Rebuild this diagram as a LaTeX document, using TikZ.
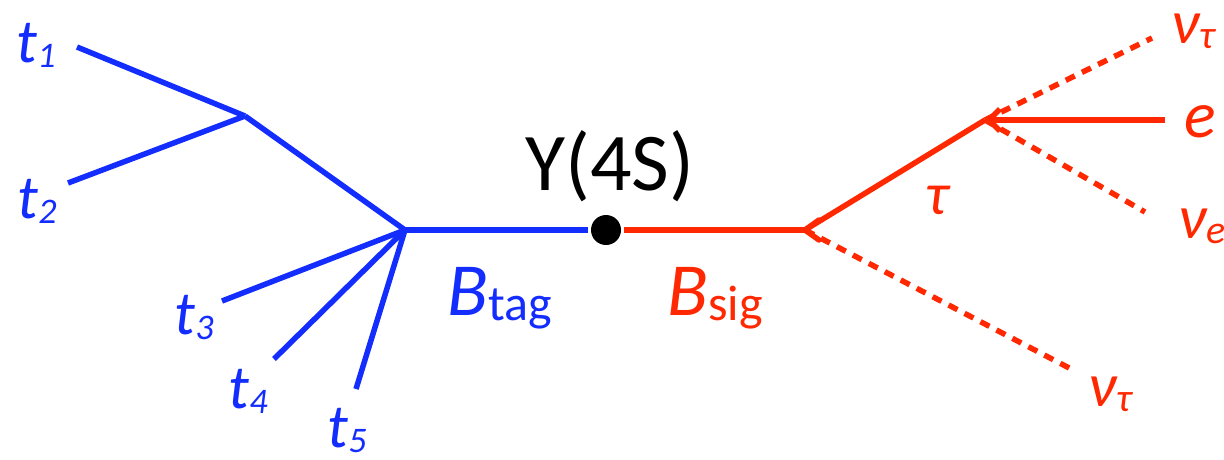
\documentclass[tikz,border=0pt]{standalone}
\usepackage{fontspec}
\setmainfont{Carlito}
\usetikzlibrary{arrows.meta}
\definecolor{tblue}{RGB}{20,45,255}
\definecolor{tred}{RGB}{255,40,0}
\newcommand\lab[4]{{\fontsize{#3}{#3}\selectfont\itshape #1}{\fontsize{#4}{#4}\selectfont\itshape\raisebox{-5pt}{#2}}}
\begin{document}
\begin{tikzpicture}[x=1pt,y=-1pt,
  bl/.style={draw=tblue,line width=5.5pt},
  rl/.style={draw=tred,line width=5.5pt},
  rd/.style={draw=tred,line width=5.5pt,dash pattern=on 10pt off 8pt},
  btxt/.style={text=tblue,inner sep=0pt},
  rtxt/.style={text=tred,inner sep=0pt}]
\useasboundingbox (0,0) rectangle (1224,459);
% vertices
\coordinate (v1) at (245,116);
\coordinate (v2) at (405,230);
\coordinate (v3) at (805,230);
\coordinate (v4) at (985,120);
\node[circle,fill=black,minimum size=30pt,inner sep=0pt] (Y) at (606,230) {};
% free ends
\coordinate (e1) at (77,47);
\coordinate (e2) at (68,183);
\coordinate (e3) at (222,301);
\coordinate (e4) at (274,359);
\coordinate (e5) at (356,389);
\coordinate (ee) at (1165,120);
\coordinate (ent) at (1152,38);
\coordinate (ene) at (1145,212);
\coordinate (ent2) at (1073,370);
% blue tree
\draw[bl] (e1) -- (v1);
\draw[bl] (e2) -- (v1);
\draw[bl] (v1) -- (v2);
\draw[bl] (e3) -- (v2);
\draw[bl] (e4) -- (v2);
\draw[bl] (e5) -- (v2);
\draw[bl,shorten >=3pt] (v2) -- (Y);
% red tree
\draw[rl,shorten <=3pt] (Y) -- (v3);
\draw[rl,line cap=round] ([shift={(14,-10)}]v3) -- (v3) -- ([shift={(14,10)}]v3);
\draw[rl] (v3) -- (v4);
\draw[rd] (v3) -- (ent2);
\draw[rl,-{Straight Barb[length=11pt,width=22pt]}] (ee) -- (v4);
\draw[rd] (v4) -- (ent);
\draw[rd] (v4) -- (ene);
% labels
\node[btxt] (t1) at (36,45) {\lab{t}{1}{62}{36}};
\node[btxt] (t2) at (37,201) {\lab{t}{2}{62}{36}};
\node[btxt] (t3) at (194,318) {\lab{t}{3}{62}{36}};
\node[btxt] (t4) at (248,391) {\lab{t}{4}{62}{36}};
\node[btxt] (t5) at (347,431) {\lab{t}{5}{62}{36}};
\node[btxt] (Bt) at (500,298) {{\fontsize{75}{75}\selectfont\itshape B}{\fontsize{50}{50}\selectfont\raisebox{-5pt}{tag}}};
\node[inner sep=0pt] (Yl) at (610,166) {\fontsize{82}{82}\selectfont Y(4S)};
\node[rtxt] (Bs) at (715,298) {{\fontsize{75}{75}\selectfont\itshape B}{\fontsize{50}{50}\selectfont\raisebox{-5pt}{sig}}};
\node[rtxt] (tau) at (937,200) {\fontsize{60}{60}\selectfont\itshape τ};
\node[rtxt] (nt1) at (1193,31) {\lab{ν}{τ}{62}{40}};
\node[rtxt] (el) at (1200,122) {\fontsize{66}{66}\selectfont\itshape e};
\node[rtxt] (ne) at (1202,226) {\lab{ν}{e}{62}{40}};
\node[rtxt] (nt2) at (1110,394) {\lab{ν}{τ}{62}{40}};
\end{tikzpicture}
\end{document}
